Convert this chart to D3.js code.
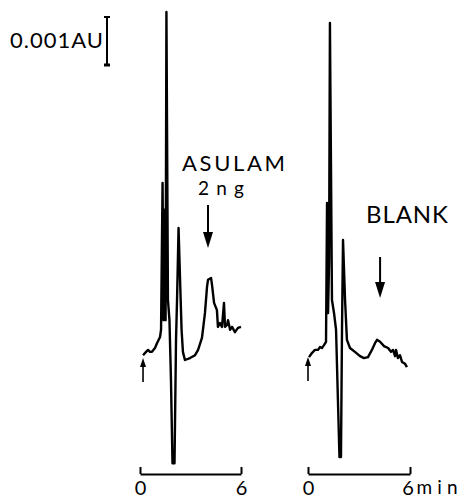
<!DOCTYPE html>
<html>
<head>
  <script src="https://cdn.jsdelivr.net/npm/d3@7/dist/d3.min.js"></script>
  <style>
    body { margin: 0; background: #fff; }
    text { font-family: Lato, "Open Sans", sans-serif; fill: #000; }
  </style>
</head>
<body>
  <script>

  var width = 459
  var height = 502

  // time (min) and signal (mAU above baseline)
  var asulamTime = [0.18, 0.36, 0.48, 0.59, 0.71, 0.89, 1.01, 1.19, 1.25, 1.34, 1.40, 1.46, 1.52, 1.57,
    1.66, 1.75, 1.84, 1.93, 2.05, 2.14, 2.20, 2.29, 2.38, 2.47, 2.55, 2.67, 2.97, 3.27, 3.45, 3.68,
    3.74, 3.86, 3.98, 4.04, 4.22, 4.28, 4.40, 4.57, 4.63, 4.75, 4.87, 4.99, 5.05, 5.17, 5.23, 5.35,
    5.47, 5.64, 5.82, 6.00];
  var asulamSignal = [0.10, 0.17, 0.21, 0.17, 0.17, 0.25, 0.35, 0.48, 0.63, 3.69, 0.83, 3.13, 0.83, 7.25,
    1.25, 0.83, -0.42, -2.15, -2.15, 0.42, 1.25, 2.75, 1.67, 0.63, 0.17, 0.00, 0.04, 0.10, 0.21, 0.46,
    0.63, 0.98, 1.52, 1.67, 1.71, 1.56, 1.19, 1.04, 0.69, 0.77, 0.69, 1.19, 0.69, 0.73, 0.83, 0.63,
    0.69, 0.58, 0.67, 0.69];

  var blankTime = [0.06, 0.24, 0.41, 0.59, 0.71, 0.82, 0.94, 1.06, 1.12, 1.18, 1.24, 1.29, 1.41, 1.53,
    1.65, 1.76, 1.85, 1.94, 2.00, 2.06, 2.18, 2.29, 2.47, 2.76, 3.06, 3.29, 3.53, 3.76, 3.94, 4.06,
    4.24, 4.47, 4.71, 4.88, 5.00, 5.12, 5.18, 5.29, 5.41, 5.53, 5.71, 5.82];
  var blankSignal = [0.06, 0.15, 0.21, 0.21, 0.27, 0.25, 0.31, 0.38, 3.27, 0.98, 2.08, 7.02, 1.25, 0.98,
    0.63, -0.83, -2.02, -2.02, 0.63, 2.50, 1.25, 0.42, 0.25, 0.17, 0.08, 0.04, 0.06, 0.21, 0.35, 0.42,
    0.38, 0.29, 0.25, 0.17, 0.21, 0.08, 0.21, 0.04, 0.10, -0.04, -0.08, -0.15];

  var timeTicks = [0, 6];
  var injectTime = [0.18, 0.0];
  var markTime = [4.04, 4.24];
  var panelLabels = ["ASULAM", "BLANK"];
  var amountLabel = "2ng";
  var scaleLabel = "0.001AU";

  var svg = d3.select('body').append("svg")
    .attr("width", width)
    .attr("height", height);

  var y = d3.scaleLinear().domain([0, 1]).range([360, 312]);
  var xA = d3.scaleLinear().domain([0, 6]).range([140, 241]);
  var xB = d3.scaleLinear().domain([0, 6]).range([308, 410]);

  function trace(x, t, s) {
    return d3.line()
      .x(function(d, i) { return x(t[i]); })
      .y(function(d, i) { return y(s[i]); })(t);
  }

  svg.append("path").attr("d", trace(xA, asulamTime, asulamSignal))
    .attr("fill", "none").attr("stroke", "#000").attr("stroke-width", 2.4)
    .attr("stroke-linejoin", "round");
  svg.append("path").attr("d", trace(xB, blankTime, blankSignal))
    .attr("fill", "none").attr("stroke", "#000").attr("stroke-width", 2.4)
    .attr("stroke-linejoin", "round");

  // time axes
  [xA, xB].forEach(function(x, k) {
    var g = svg.append("g").attr("transform", "translate(0,474)")
      .call(d3.axisBottom(x).tickValues(timeTicks).tickSizeInner(-7).tickSizeOuter(0).tickPadding(7)
        .tickFormat(d3.format("d")));
    g.select(".domain").attr("stroke-width", 2);
    g.selectAll(".tick line").attr("stroke-width", 2);
    g.selectAll(".tick text").attr("font-size", 20).attr("font-family", "Lato, sans-serif");
    if (k == 1) {
      var six = g.selectAll(".tick").filter(function(d) { return d == 6; });
      six.select("text").attr("dx", -2.5);
      six.append("text")
        .attr("x", 6).attr("y", 7).attr("dy", "0.71em")
        .attr("fill", "#000").attr("font-size", 19).attr("font-family", "Lato, sans-serif")
        .attr("text-anchor", "start").attr("textLength", 41).attr("lengthAdjust", "spacing")
        .text("min");
    }
  });

  // injection arrows (pointing up)
  function upArrow(x0, y0) {
    svg.append("line").attr("x1", x0).attr("x2", x0).attr("y1", y0 + 24).attr("y2", y0 + 4)
      .attr("stroke", "#000").attr("stroke-width", 1.6);
    svg.append("path").attr("d", "M" + (x0 - 3) + "," + (y0 + 9) + "L" + x0 + "," + y0 + "L" + (x0 + 3) + "," + (y0 + 9) + "Z")
      .attr("fill", "#000");
  }
  upArrow(xA(injectTime[0]), 358);
  upArrow(xB(injectTime[1]), 357);

  // analyte position arrows (pointing down)
  function downArrow(x0, y0, y1) {
    svg.append("line").attr("x1", x0).attr("x2", x0).attr("y1", y0).attr("y2", y1 - 6)
      .attr("stroke", "#000").attr("stroke-width", 2);
    svg.append("path").attr("d", "M" + (x0 - 5) + "," + (y1 - 16) + "L" + x0 + "," + y1 + "L" + (x0 + 5) + "," + (y1 - 16) + "Z")
      .attr("fill", "#000");
  }
  downArrow(xA(markTime[0]), 205, 248);
  downArrow(xB(markTime[1]), 257, 298);

  // labels
  svg.append("text").attr("x", 182).attr("y", 171).attr("font-size", 22)
    .attr("textLength", 103).attr("lengthAdjust", "spacing").text(panelLabels[0]);
  svg.append("text").attr("x", 198).attr("y", 195).attr("font-size", 19)
    .attr("textLength", 46).attr("lengthAdjust", "spacing").text(amountLabel);
  svg.append("text").attr("x", 366).attr("y", 223).attr("font-size", 24)
    .attr("textLength", 82).attr("lengthAdjust", "spacing").text(panelLabels[1]);

  // scale bar 0.001 AU
  var barTop = 17;
  var barH = y(0) - y(1);
  svg.append("text").attr("x", 10).attr("y", 48).attr("font-size", 22)
    .attr("textLength", 93).attr("lengthAdjust", "spacing").text(scaleLabel);
  svg.append("line").attr("x1", 107).attr("x2", 107).attr("y1", barTop).attr("y2", barTop + barH)
    .attr("stroke", "#000").attr("stroke-width", 2);
  svg.append("line").attr("x1", 104).attr("x2", 110).attr("y1", barTop).attr("y2", barTop)
    .attr("stroke", "#000").attr("stroke-width", 2);
  svg.append("line").attr("x1", 104).attr("x2", 110).attr("y1", barTop + barH).attr("y2", barTop + barH)
    .attr("stroke", "#000").attr("stroke-width", 3);

  </script>
</body>
</html>
